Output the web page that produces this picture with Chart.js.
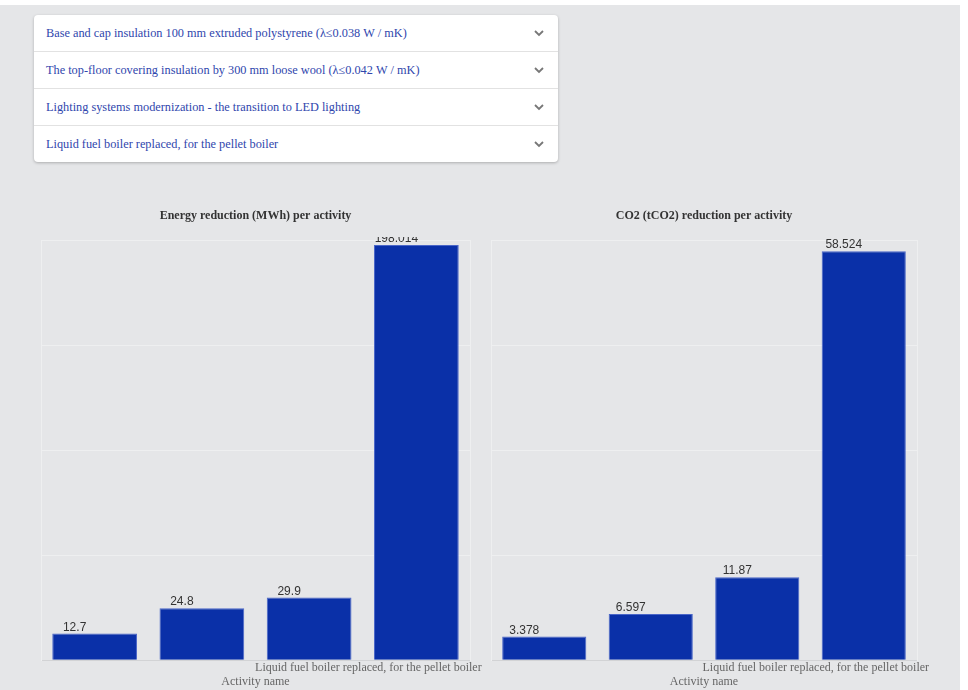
<!DOCTYPE html>
<html>
<head>
<meta charset="utf-8">
<script src="https://cdn.jsdelivr.net/npm/chart.js@4.4.1/dist/chart.umd.min.js"></script>
<style>
    html, body { margin: 0; padding: 0; background: #fff; overflow: hidden; }
    #page { position: absolute; left: 0; top: 5px; width: 960px; height: 700px; background: #e5e6e8; }
    .acc { position: absolute; left: 34px; top: 10px; width: 524px; background: #fff; border-radius: 4px;
           box-shadow: 0 1px 3px rgba(0,0,0,0.25); }
    .acc-row { height: 36px; border-bottom: 1px solid #e2e2e2; position: relative;
               font-family: "Times New Roman", "Liberation Serif", "DejaVu Serif", serif; font-size: 12.3px; color: #2f46ad; line-height: 36px; padding-left: 12px; }
    .acc-row:last-child { border-bottom: none; }
    .acc-row svg { position: absolute; right: 14px; top: 15px; }
    .box { position: absolute; top: 193px; width: 455px; height: 492px; }
</style>
</head>
<body>
<div id="page">
    <div class="acc" id="acc"></div>
    <div class="box" style="left:30px"><canvas id="energyChart"></canvas></div>
    <div class="box" style="left:480px"><canvas id="co2Chart"></canvas></div>
</div>
<script>
    const activities = [
        'Base and cap insulation 100 mm extruded polystyrene (\u03bb\u22640.038 W / mK)',
        'The top-floor covering insulation by 300 mm loose wool (\u03bb\u22640.042 W / mK)',
        'Lighting systems modernization - the transition to LED lighting',
        'Liquid fuel boiler replaced, for the pellet boiler'
    ];
    const energyValues = [12.7, 24.8, 29.9, 198.014];
    const co2Values = [3.378, 6.597, 11.87, 58.524];
    const energyTicks = { max: 200, step: 50 };
    const co2Ticks = { max: 60, step: 15 };

    const serif = '"Times New Roman", "Liberation Serif", serif';

    var acc = document.getElementById('acc');
    activities.forEach(function (name) {
        var row = document.createElement('div');
        row.className = 'acc-row';
        row.textContent = name;
        row.insertAdjacentHTML('beforeend',
            '<svg width="10" height="7" viewBox="0 0 10 7"><polyline points="1,1 5,5 9,1" fill="none" stroke="#777" stroke-width="1.8"/></svg>');
        acc.appendChild(row);
    });

    // value text above each bar, slightly left of centre
    const barLabels = {
        id: 'barLabels',
        afterDatasetsDraw(chart) {
            const ctx = chart.ctx;
            const area = chart.chartArea;
            ctx.save();
            ctx.beginPath();
            ctx.rect(0, area.top - 4, chart.width, area.bottom - area.top + 4);
            ctx.clip();
            ctx.font = '12px "Liberation Sans", Arial, sans-serif';
            ctx.fillStyle = '#333';
            ctx.textAlign = 'center';
            ctx.textBaseline = 'alphabetic';
            chart.getDatasetMeta(0).data.forEach(function (bar, i) {
                ctx.fillText(String(chart.data.datasets[0].data[i]), bar.x - 20, bar.y - 3);
            });
            ctx.restore();
        }
    };

    function createBarChart(id, title, values, ticks, padRight) {
        const lastIdx = activities.length - 1;
        new Chart(document.getElementById(id), {
            type: 'bar',
            data: {
                labels: activities,
                datasets: [{
                    data: values,
                    backgroundColor: '#0a30a8',
                    borderColor: '#4a66c8',
                    borderWidth: 1,
                    categoryPercentage: 1,
                    barPercentage: 0.79
                }]
            },
            options: {
                responsive: false,
                animation: false,
                layout: { padding: { left: 11, right: padRight, top: 0, bottom: 1 } },
                plugins: {
                    legend: { display: false },
                    tooltip: { enabled: false },
                    title: {
                        display: true,
                        text: title,
                        color: '#333',
                        font: { family: serif, size: 12, weight: 'bold' },
                        padding: { top: 11, bottom: 17.5 }
                    }
                },
                scales: {
                    x: {
                        grid: { display: false, drawTicks: false },
                        border: { display: true, color: '#d2d3d5' },
                        ticks: {
                            maxRotation: 0,
                            autoSkip: false,
                            color: '#666',
                            padding: 0,
                            labelOffset: -48,
                            font: { family: serif, size: 12 },
                            callback: function (v, i) { return i === lastIdx ? this.getLabelForValue(v) : ''; }
                        },
                        afterFit: function (axis) { axis.paddingLeft = 0; axis.paddingRight = 0; },
                        title: {
                            display: true,
                            text: 'Activity name',
                            color: '#666',
                            padding: 0,
                            font: { family: serif, size: 12 }
                        }
                    },
                    y: {
                        min: 0,
                        max: ticks.max,
                        ticks: { display: false, stepSize: ticks.step },
                        grid: { color: '#eeeff0', drawTicks: false },
                        border: { display: true, color: '#eeeff0' }
                    },
                    y2: {
                        position: 'right',
                        min: 0,
                        max: ticks.max,
                        ticks: { display: false },
                        grid: { display: false, drawTicks: false },
                        border: { display: true, color: '#eeeff0' }
                    }
                }
            },
            plugins: [barLabels]
        });
    }

    var c1 = document.getElementById('energyChart');
    var c2 = document.getElementById('co2Chart');
    [c1, c2].forEach(function (c) { c.width = 455; c.height = 492; });
    createBarChart('energyChart', 'Energy reduction (MWh) per activity', energyValues, energyTicks, 15);
    createBarChart('co2Chart', 'CO2 (tCO2) reduction per activity', co2Values, co2Ticks, 18);
</script>
</body>
</html>
